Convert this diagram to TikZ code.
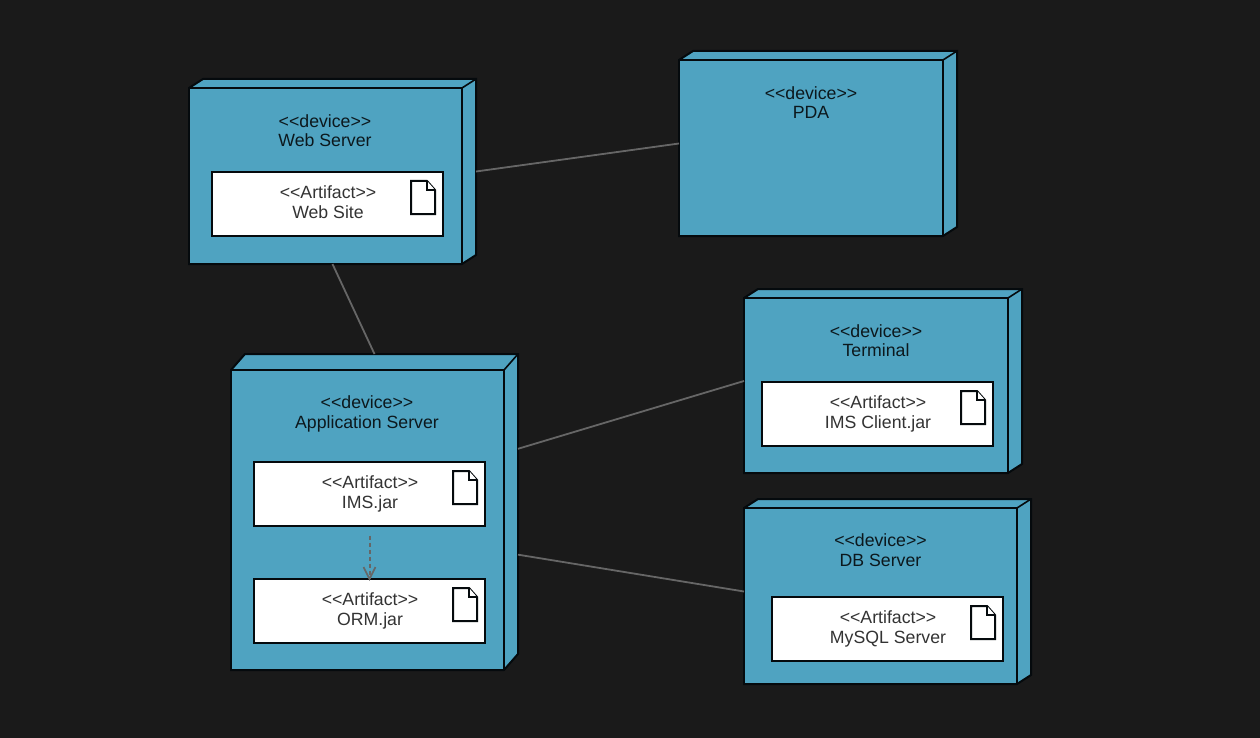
\documentclass[tikz,border=0pt]{standalone}
\usepackage{fontspec}
\setmainfont{Liberation Sans}
\usetikzlibrary{positioning}
\usetikzlibrary{calc}
\definecolor{backcol}{HTML}{1A1A1A}
\definecolor{devicecol}{HTML}{4FA3C1}
\definecolor{linecol}{HTML}{050A0D}
\definecolor{wirecol}{HTML}{666666}
\tikzstyle{devicebox}=[rectangle,anchor=north west,inner sep=0pt,outer sep=0pt]
\tikzstyle{deviceline}=[draw=linecol,fill=devicecol,line width=2pt,line join=miter]
\tikzstyle{devicelabel}=[align=center,text=black!85!devicecol,inner sep=0pt,font=\fontsize{17.7}{19.4}\selectfont]
\tikzstyle{artifactbox}=[rectangle,anchor=north west,draw=linecol,fill=white,line width=2pt,inner sep=0pt,outer sep=0pt,minimum width=231pt,minimum height=63.5pt]
\tikzstyle{artifactlabel}=[align=center,text=black!80,inner sep=0pt,font=\fontsize{17.7}{19.4}\selectfont]
\tikzstyle{wire} = [draw=wirecol,line width=1.8pt]
\newcommand{\stereo}[1]{\strut<{}<#1>{}>}

\begin{document}
\begin{tikzpicture}[x=1pt,y=-1pt]

  \coordinate (corner1) at (0,0);
  \coordinate (corner2) at (1260,738);
  \fill[backcol] (corner1) rectangle (corner2);
  \useasboundingbox (corner1) rectangle (corner2);

  % x/y/w/h/dx/dy/name
  \foreach \x/\y/\w/\h/\dx/\dy/\name in {189/79/273/176/14/9/web, 679/51/264/176/14/9/pda, 744/289/264/175/14/9/terminal, 744/499/273/176/14/9/db, 231/354/273/300/14/16/app}
  {
    \node[devicebox,minimum width={(\w+\dx)*1pt},minimum height={(\h+\dy)*1pt}] (\name) at (\x,\y) {};
    \path[deviceline] ($(\name.north west)+(0,\dy)$) -- ++(\dx,-\dy) -- ++(\w,0) -- ++(0,\h) -- ++(-\dx,\dy) -- ++(-\w,0) -- cycle;
    \path[deviceline] ($(\name.north west)+(0,\dy)$) rectangle ++(\w,\h);
    \draw[linecol,line width=1.6pt] ($(\name.north west)+(\w,\dy)$) -- ++(\dx,-\dy);
  }

  \foreach \x/\y/\name/\label in {325/133/web/Web Server, 811/105/pda/PDA, 876/343/terminal/Terminal, 880.5/552.5/db/DB Server, 367/414.5/app/Application Server}
    \node[devicelabel] (\name label) at (\x,\y) {\stereo{device}\\\strut\label};

  \foreach \x/\y/\name/\label in {212/172/site/Web Site, 762/382/client/IMS Client.jar, 772/597/mysql/MySQL Server, 254/462/ims/IMS.jar, 254/579/orm/ORM.jar}
  {
    \node[artifactbox] (\name) at (\x,\y) {};
    \node[artifactlabel] (\name label) at ($(\name.north west)+(116,32.5)$) {\stereo{Artifact}\\\strut\label};
    \draw[linecol,fill=white,line width=2pt] ($(\name.north west)+(199,9)$) -- ++(16,0) -- ++(8,9) -- ++(0,24) -- ++(-24,0) -- cycle;
    \draw[linecol,fill=white,line width=1.4pt] ($(\name.north west)+(215,9)$) -- ++(0,9) -- ++(8,0);
  }

  \foreach \source/ \dest in {web.east/pda.west, web.south/app.north}
    \path[wire] (\source) -- (\dest);

  \path[wire] ($(app.south east)!0.70!(app.north east)$) -- (terminal.west);
  \path[wire] ($(app.south east)!0.365!(app.north east)$) -- (db.west);

  \draw[wirecol,line width=2pt,dash pattern=on 4pt off 3pt,shorten <=10pt] (ims.south) -- (orm.north);
  \draw[wirecol,line width=1.6pt] ($(orm.north)+(-6,-12)$) -- (orm.north) -- ($(orm.north)+(6,-12)$);

\end{tikzpicture}
\end{document}
